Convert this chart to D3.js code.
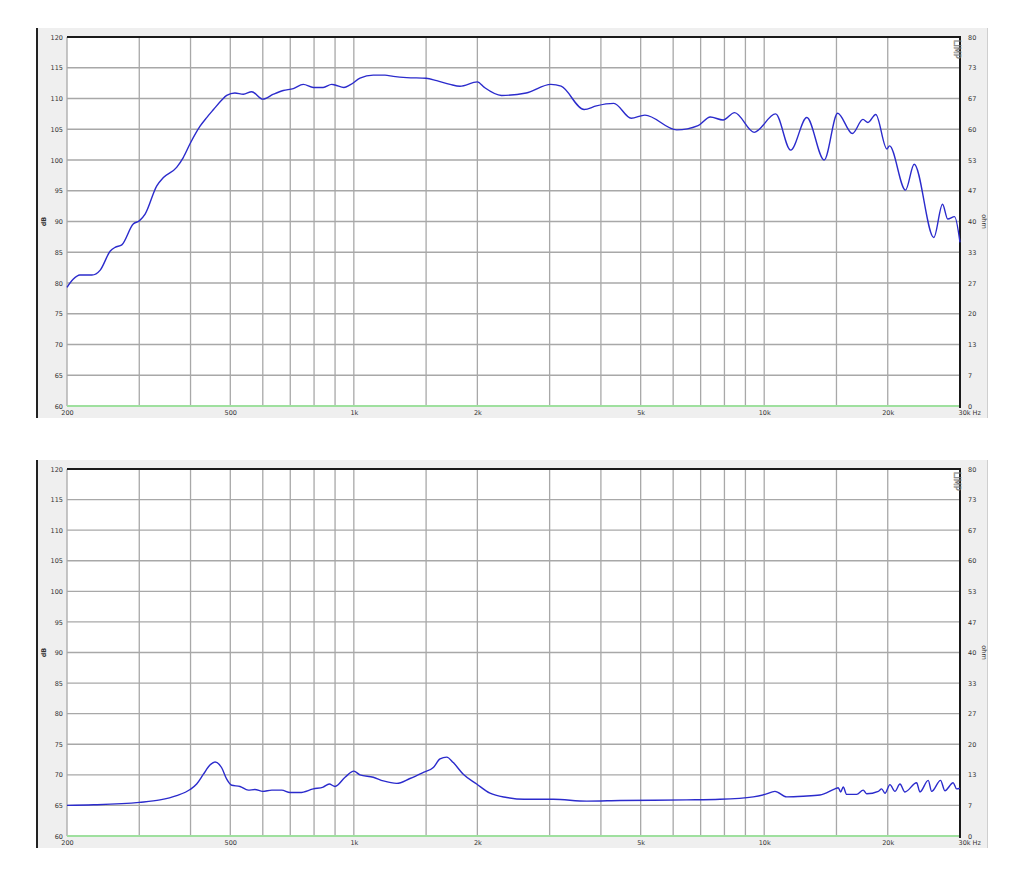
<!DOCTYPE html>
<html>
<head>
<meta charset="utf-8">
<script src="https://cdn.jsdelivr.net/npm/d3@7"></script>
<style>
  html, body { margin: 0; padding: 0; background: #ffffff; }
  svg { display: block; }
  text { font-family: "DejaVu Sans", sans-serif; }
</style>
</head>
<body>
<svg id="chart" width="1024" height="878"></svg>
<script>
// ---- data ----
const splFreq = [200,207,215,230,241,255,262,272,290,300,310,331,343,370,384,400,422,438,455,476,490,513,538,564,600,637,673,712,753,797,842,883,900,946,979,1035,1115,1191,1248,1345,1500,1592,1716,1814,2000,2080,2290,2630,3020,3200,3640,3900,4300,4740,5120,6120,6900,7390,7940,8470,9450,10660,11600,12700,14000,15100,16400,17400,17900,18700,19900,20200,22100,23200,25900,27200,28000,29100,30000];
const splDb   = [79.3,80.6,81.3,81.3,82.1,85.2,85.8,86.2,89.6,90.1,91.2,95.8,97.1,98.8,100.4,102.8,105.5,106.9,108.2,109.7,110.5,110.9,110.7,111.1,109.9,110.7,111.3,111.6,112.3,111.8,111.8,112.3,112.2,111.8,112.2,113.3,113.8,113.8,113.6,113.4,113.3,112.9,112.3,112.0,112.7,111.8,110.5,110.9,112.3,112.0,108.2,108.8,109.2,106.8,107.3,104.9,105.6,107.0,106.5,107.7,104.5,107.5,101.6,106.9,100.0,107.6,104.3,106.6,106.1,107.4,101.8,102.3,95.1,99.3,87.4,92.8,90.4,90.8,86.6];

const impFreq = [200,232,300,337,370,399,414,430,446,459,476,490,504,528,553,574,600,631,667,699,739,797,842,871,900,952,1000,1035,1115,1180,1272,1370,1477,1562,1622,1684,1747,1848,1992,2147,2358,2600,3062,3694,4453,6473,7801,9406,10044,10624,11343,12450,13673,14873,15150,15356,15580,15880,16800,17430,17766,18966,19329,19690,20250,20825,21420,22020,23520,23960,25100,25590,26900,27560,28870,29430,30000];
const impDb   = [65.0,65.1,65.5,65.9,66.6,67.6,68.5,70.1,71.6,72.1,71.2,69.3,68.3,68.1,67.5,67.6,67.3,67.5,67.5,67.1,67.1,67.7,68.0,68.5,68.1,69.6,70.6,70.0,69.6,69.0,68.6,69.4,70.4,71.2,72.6,72.9,72.0,70.1,68.5,67.0,66.3,66.0,66.0,65.7,65.8,65.9,66.0,66.4,66.8,67.3,66.4,66.5,66.7,67.7,67.9,67.2,68.0,66.8,66.8,67.5,66.9,67.3,67.7,67.0,68.4,67.3,68.5,67.2,68.7,67.2,69.1,67.3,69.1,67.4,68.7,67.7,67.8];

const gridFreqs = [300,400,500,600,700,800,900,1000,1500,2000,3000,4000,5000,6000,7000,8000,9000,10000,15000,20000];
const xTickValues = [200,500,1000,2000,5000,10000,20000,30000];
const xTickLabels = ["200","500","1k","2k","5k","10k","20k","30k Hz"];
const dbTicks = [60,65,70,75,80,85,90,95,100,105,110,115,120];
const ohmLabels = ["0","7","13","20","27","33","40","47","53","60","67","73","80"];

// ---- drawing ----
const svg = d3.select("#chart");
const X0 = 67, X1 = 960;

function drawPanel(panelTop, plotTop, plotBottom, freqs, values) {
  const g = svg.append("g");
  const x = d3.scaleLog().domain([200, 30000]).range([X0, X1]);
  const y = d3.scaleLinear().domain([60, 120]).range([plotBottom, plotTop]);

  // panel background
  g.append("rect").attr("x", 37).attr("y", panelTop).attr("width", 951).attr("height", plotBottom - panelTop + 12)
    .attr("fill", "#efefef");
  g.append("line").attr("x1", 987.5).attr("x2", 987.5).attr("y1", panelTop).attr("y2", plotBottom + 12)
    .attr("stroke", "#cfcfcf").attr("stroke-width", 1);
  g.append("line").attr("x1", 37).attr("x2", 37).attr("y1", panelTop).attr("y2", plotBottom + 12)
    .attr("stroke", "#222").attr("stroke-width", 2);

  // plot area
  g.append("rect").attr("x", X0).attr("y", plotTop).attr("width", X1 - X0).attr("height", plotBottom - plotTop)
    .attr("fill", "#ffffff");

  // horizontal grid
  g.append("g").selectAll("line").data(dbTicks.slice(1, -1)).join("line")
    .attr("x1", X0).attr("x2", X1).attr("y1", d => y(d)).attr("y2", d => y(d))
    .attr("stroke", "#a8a8a8").attr("stroke-width", 1.3);
  // vertical grid
  g.append("g").selectAll("line").data(gridFreqs).join("line")
    .attr("x1", d => x(d)).attr("x2", d => x(d)).attr("y1", plotTop).attr("y2", plotBottom)
    .attr("stroke", "#a8a8a8").attr("stroke-width", 1.3);
  // left border
  g.append("line").attr("x1", X0).attr("x2", X0).attr("y1", plotTop).attr("y2", plotBottom)
    .attr("stroke", "#a8a8a8").attr("stroke-width", 1.3);
  // bottom green
  g.append("line").attr("x1", X0).attr("x2", X1).attr("y1", plotBottom).attr("y2", plotBottom)
    .attr("stroke", "#9fe09f").attr("stroke-width", 2);
  // top and right dark borders
  g.append("line").attr("x1", X0).attr("x2", X1 + 1).attr("y1", plotTop).attr("y2", plotTop)
    .attr("stroke", "#1a1a1a").attr("stroke-width", 2);
  g.append("line").attr("x1", X1).attr("x2", X1).attr("y1", plotTop).attr("y2", plotBottom + 2)
    .attr("stroke", "#1a1a1a").attr("stroke-width", 2);

  // curve
  const pts = freqs.map((f, i) => [f, values[i]]);
  const line = d3.line().x(d => x(d[0])).y(d => y(d[1])).curve(d3.curveMonotoneX);
  g.append("path").datum(pts).attr("d", line)
    .attr("fill", "none").attr("stroke", "#2b2bcc").attr("stroke-width", 1.4);

  // axes
  const xAxis = d3.axisBottom(x).tickValues(xTickValues)
    .tickFormat((d, i) => xTickLabels[i]).tickSize(0).tickPadding(3);
  const xa = g.append("g").attr("transform", `translate(0,${plotBottom + 1})`).call(xAxis);
  xa.select(".domain").remove();
  xa.selectAll("text").attr("font-size", 6.5).attr("fill", "#333")
    .attr("text-anchor", (d) => d === 30000 ? "start" : "middle")
    .attr("dx", (d) => d === 30000 ? -2 : 0);

  const yAxisL = d3.axisLeft(y).tickValues(dbTicks).tickSize(0).tickPadding(4).tickFormat(d3.format("d"));
  const yl = g.append("g").attr("transform", `translate(${X0},0)`).call(yAxisL);
  yl.select(".domain").remove();
  yl.selectAll("text").attr("font-size", 6.5).attr("fill", "#333");

  const yAxisR = d3.axisRight(y).tickValues(dbTicks).tickSize(0).tickPadding(8)
    .tickFormat((d, i) => ohmLabels[i]);
  const yr = g.append("g").attr("transform", `translate(${X1},0)`).call(yAxisR);
  yr.select(".domain").remove();
  yr.selectAll("text").attr("font-size", 6.5).attr("fill", "#333");

  const midY = (plotTop + plotBottom) / 2;
  g.append("text").attr("transform", `translate(46,${midY}) rotate(-90)`)
    .attr("text-anchor", "middle").attr("font-size", 6.5).attr("font-weight", "bold").attr("fill", "#333").text("dB");
  g.append("text").attr("transform", `translate(982,${midY}) rotate(90)`)
    .attr("text-anchor", "middle").attr("font-size", 6.5).attr("fill", "#333").text("ohm");
  g.append("text").attr("transform", `translate(954,${plotTop + 3}) rotate(90)`)
    .attr("text-anchor", "start").attr("font-size", 8).attr("fill", "none")
    .attr("stroke", "#777").attr("stroke-width", 0.5).text("LIMP");
}

drawPanel(28, 37, 406, splFreq, splDb);
drawPanel(460, 469, 836, impFreq, impDb);
</script>
</body>
</html>
